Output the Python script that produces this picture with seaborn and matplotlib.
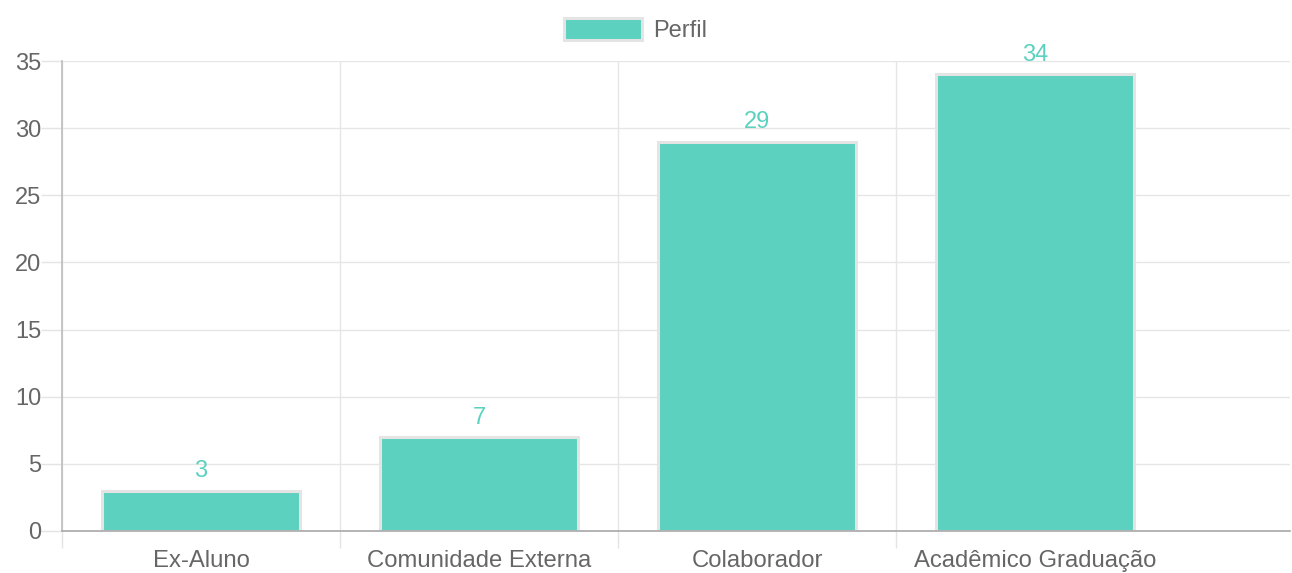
import matplotlib
matplotlib.use("Agg")
import matplotlib.pyplot as plt
import seaborn as sns

# Data
categories = ['Ex-Aluno', 'Comunidade Externa', 'Colaborador', 'Acadêmico Graduação']
values = [3, 7, 29, 34]
series_name = 'Perfil'

teal = '#5cd1c0'
border = '#e4e4e4'
text_grey = '#666666'

sns.set_theme(style='white')
plt.rcParams['font.family'] = ['Liberation Sans', 'DejaVu Sans']

fig = plt.figure(figsize=(12.92, 5.73), dpi=100)
ax = fig.add_axes([0.048, 0.0733, 0.9505, 0.8202])

sns.barplot(x=categories, y=values, color=teal, width=0.71, edgecolor=border,
            linewidth=2.2, saturation=1, label=series_name, ax=ax)

# value labels above the bars
for i, v in enumerate(values):
    ax.annotate(str(v), (i, v), xytext=(0, 6), textcoords='offset points',
                ha='center', va='bottom', color=teal, fontsize=17)

ax.set_ylim(0, 35)
ax.set_xlim(-0.5, 3.917)
ax.set_yticks(range(0, 36, 5))
ax.tick_params(axis='y', length=15, width=1, color='#e4e4e4', labelsize=17,
               labelcolor=text_grey, pad=0, left=True)
ax.set_xticks(range(len(categories)))
ax.set_xticklabels(categories)
ax.tick_params(axis='x', which='major', length=0, labelsize=17.2,
               labelcolor=text_grey, pad=14)
ax.set_xticks([-0.5, 0.5, 1.5, 2.5], minor=True)
ax.tick_params(axis='x', which='minor', length=12, width=1, color='#e4e4e4',
               bottom=True)

ax.grid(axis='y', color='#e6e6e6', linewidth=1)
ax.grid(axis='x', which='minor', color='#e6e6e6', linewidth=1)
ax.grid(axis='x', which='major', visible=False)
ax.set_axisbelow(True)

for s in ['top', 'right']:
    ax.spines[s].set_visible(False)
ax.spines['left'].set_color('#bdbdbd')
ax.spines['bottom'].set_color('#a8a8a8')
ax.spines['left'].set_linewidth(1.2)
ax.spines['bottom'].set_linewidth(1.2)

if ax.get_legend() is not None:
    ax.get_legend().remove()
handles, labels = ax.get_legend_handles_labels()
fig.legend(handles[:1], labels[:1], loc='upper center', bbox_to_anchor=(0.492, 1.005),
           frameon=False, fontsize=17, labelcolor=text_grey, handlelength=3.3,
           handleheight=1.0, handletextpad=0.5)

fig.savefig('out.png', dpi=100)
